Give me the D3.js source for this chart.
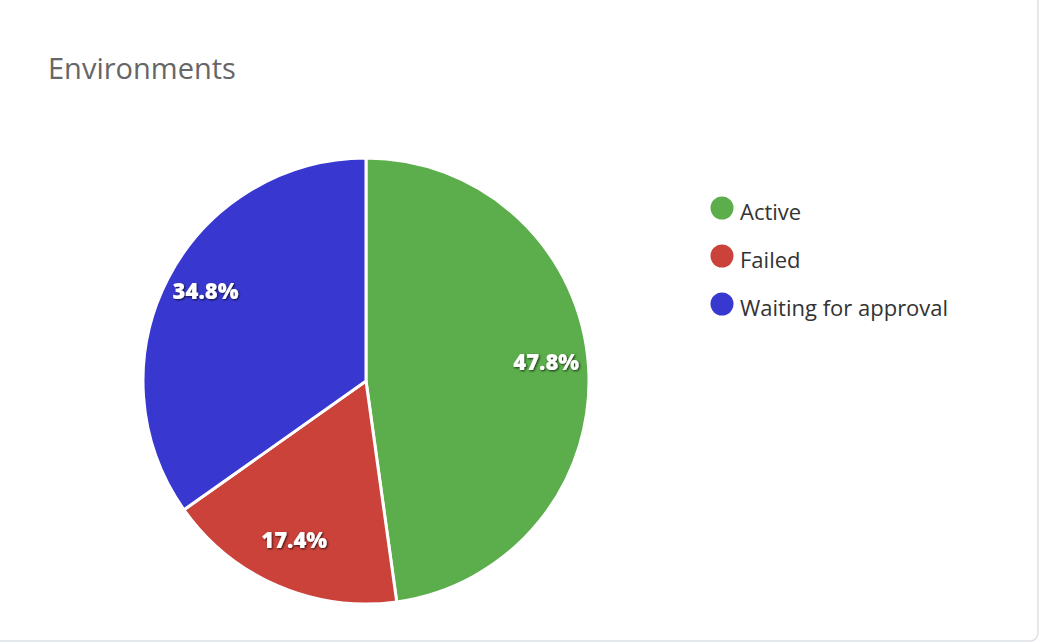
<!DOCTYPE html>
<html>
<head>
<meta charset="utf-8">
<script src="https://cdn.jsdelivr.net/npm/d3@7"></script>
<style>
  html, body { margin: 0; padding: 0; background: #fff; }
  svg { display: block; }
</style>
</head>
<body>
<svg id="chart" width="1042" height="644"></svg>
<script>
const categories = ['Active', 'Failed', 'Waiting for approval'];
const values = [47.8, 17.4, 34.8];
const colors = ['#5bae4b', '#ca423a', '#3838d0'];

const W = 1042, H = 644;
const CX = 366, CY = 381, R = 223;
const FONT = '"Open Sans", Lato, sans-serif';

const svg = d3.select('#chart');

// drop shadow for the slice labels
const defs = svg.append('defs');
const f = defs.append('filter').attr('id', 'lblShadow')
  .attr('x', '-20%').attr('y', '-40%').attr('width', '140%').attr('height', '180%');
f.append('feDropShadow').attr('dx', 1).attr('dy', 1).attr('stdDeviation', 1.2)
  .attr('flood-color', '#000').attr('flood-opacity', 0.75);

// card
svg.append('rect')
  .attr('x', -10).attr('y', -10)
  .attr('width', 1048).attr('height', 651)
  .attr('rx', 8)
  .attr('fill', '#fff')
  .attr('stroke', '#dde1e6')
  .attr('stroke-width', 1.5);

svg.append('text')
  .attr('x', 48).attr('y', 79)
  .attr('font-family', FONT)
  .attr('font-size', 29)
  .attr('fill', '#666')
  .text('Environments');

const color = d3.scaleOrdinal().domain(categories).range(colors);

const pie = d3.pie().sort(null).value(d => d.value);
const data = categories.map((c, i) => ({ name: c, value: values[i] }));
const arcs = pie(data);

const arc = d3.arc().innerRadius(0).outerRadius(R);
const labelArc = d3.arc().innerRadius(R * 0.81).outerRadius(R * 0.81);

const g = svg.append('g').attr('transform', `translate(${CX},${CY})`);

g.selectAll('path.slice')
  .data(arcs)
  .join('path')
  .attr('class', 'slice')
  .attr('d', arc)
  .attr('fill', d => color(d.data.name))
  .attr('stroke', '#fff')
  .attr('stroke-width', 3)
  .attr('stroke-linejoin', 'round');

const total = d3.sum(values);
g.selectAll('text.lbl')
  .data(arcs)
  .join('text')
  .attr('class', 'lbl')
  .attr('transform', d => {
    const [x, y] = labelArc.centroid(d);
    return `translate(${x},${y - 8})`;
  })
  .attr('text-anchor', 'middle')
  .attr('dominant-baseline', 'central')
  .attr('font-family', FONT)
  .attr('font-weight', 800)
  .attr('font-size', 22)
  .attr('fill', '#fff')
  .attr('filter', 'url(#lblShadow)')
  .text(d => (d.data.value / total * 100).toFixed(1) + '%');

// legend
const legend = svg.append('g').attr('transform', 'translate(722,208)');
const row = legend.selectAll('g.item')
  .data(categories)
  .join('g')
  .attr('class', 'item')
  .attr('transform', (d, i) => `translate(0,${i * 48})`);

row.append('circle')
  .attr('r', 11.5)
  .attr('fill', d => color(d));

row.append('text')
  .attr('x', 18)
  .attr('y', 12)
  .attr('font-family', FONT)
  .attr('font-size', 22)
  .attr('fill', '#333')
  .text(d => d);
</script>
</body>
</html>
